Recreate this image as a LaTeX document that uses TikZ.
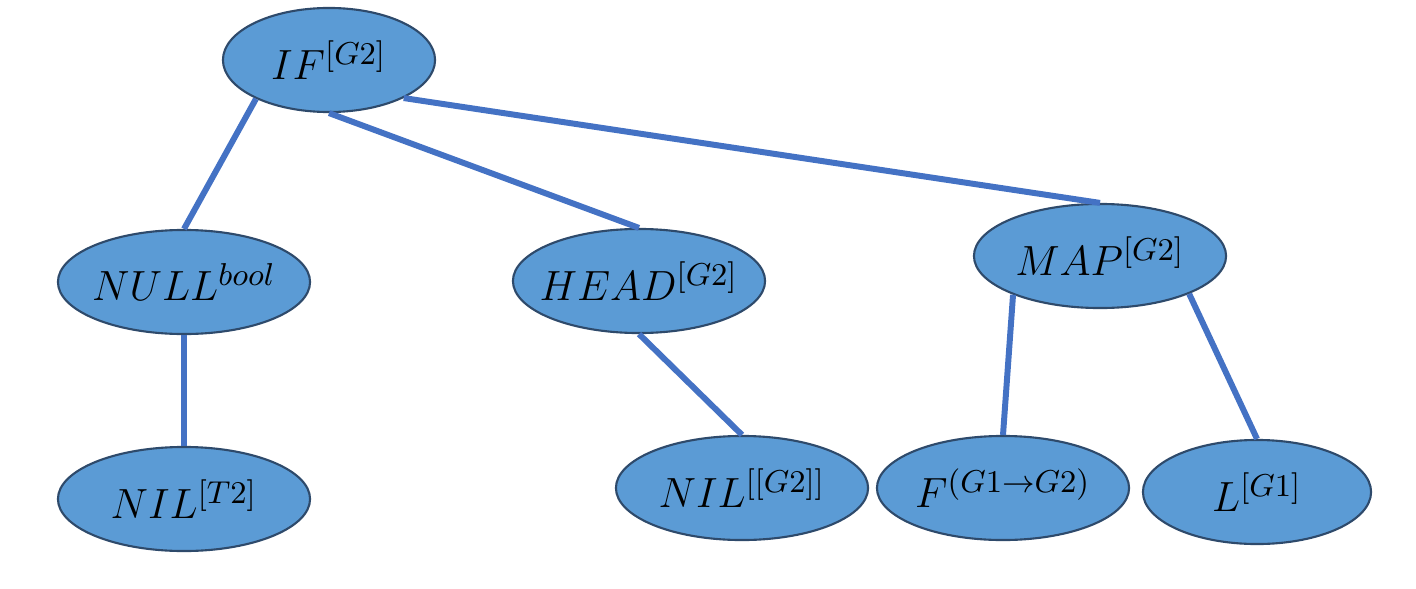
\documentclass[tikz,border=0pt]{standalone}
\usepackage{amsmath,amssymb}
\usepackage{tikz}
\usepackage{xcolor}
\usetikzlibrary{shapes.geometric}
\definecolor{termfill}{HTML}{5B9BD5}
\definecolor{termline}{HTML}{2E4A6B}
\definecolor{linkblue}{HTML}{4472C4}

\begin{document}
\begin{tikzpicture}[x=0.01cm,y=-0.01cm,
  term/.style={ellipse,draw=termline,fill=termfill,line width=0.6pt,minimum width=2.52cm,minimum height=1.04cm,inner xsep=-12pt,inner ysep=0pt,font=\fontsize{13}{15}\selectfont},
  link/.style={draw=linkblue,line width=1.7pt}]
\useasboundingbox (0,0) rectangle (1416,588);
\node[term,minimum width=2.12cm] (if) at (329,60) {$IF^{[G2]}$};
\node[term] (null) at (184,282) {$NULL^{bool}$};
\node[term] (head) at (639,281) {$HEAD^{[G2]}$};
\node[term] (map) at (1100,256) {$MAP^{[G2]}$};
\node[term] (nilt) at (184,499) {$NIL^{[T2]}$};
\node[term] (nilg) at (742,488) {$NIL^{[[G2]]}$};
\node[term] (f) at (1003,488) {$F^{(G1\rightarrow G2)}$};
\node[term,minimum width=2.28cm] (l) at (1257,492) {$L^{[G1]}$};
\draw[link] (if.208) -- (null.north);
\draw[link] (if.south) -- (head.north);
\draw[link] (if.-27) -- (map.north);
\draw[link] (null.south) -- (nilt.north);
\draw[link] (head.south) -- (nilg.north);
\draw[link] (map.-156) -- (f.north);
\draw[link] (map.-23) -- (l.north);
\end{tikzpicture}
\end{document}
